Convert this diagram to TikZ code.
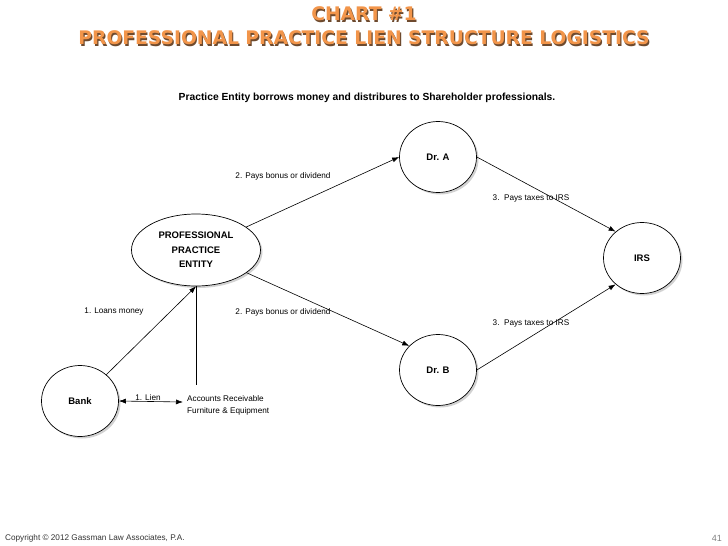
\documentclass[tikz,border=0pt]{standalone}
\usepackage{fontspec}
\setmainfont{Liberation Sans}
\newfontfamily\titlefont{DejaVu Sans}
\usepackage{xcolor}
\usetikzlibrary{shapes.geometric,arrows.meta,shadows}

\definecolor{chartorange}{HTML}{F2954A}
\definecolor{chartshade}{HTML}{6E4A2E}

\begin{document}
\begin{tikzpicture}[x=1pt,y=-1pt,
    party/.style={ellipse, draw, line width=0.7pt, fill=white, inner sep=0pt,
      minimum width=77pt, minimum height=71pt, font=\fontsize{9.5}{11}\selectfont\bfseries,
      drop shadow={shadow xshift=2pt, shadow yshift=-2pt, fill=gray!70}},
    flow/.style={line width=0.6pt, -{Latex[length=7pt,width=5pt]}},
    note/.style={font=\fontsize{8.2}{9}\selectfont, inner sep=0pt},
    heading/.style={font=\titlefont\fontsize{18.7}{24}\selectfont\bfseries, inner sep=0pt, align=center}]
  \useasboundingbox (0,0) rectangle (728,546);

  % Title with its shade
  \node[heading, chartshade] (titleShade) at (365.2,27.2) {CHART \#1\\PROFESSIONAL PRACTICE LIEN STRUCTURE LOGISTICS};
  \node[heading, chartorange] (title) at (364,26) {CHART \#1\\PROFESSIONAL PRACTICE LIEN STRUCTURE LOGISTICS};
  \node[font=\fontsize{10.3}{12}\selectfont\bfseries, inner sep=0pt] (headline) at (367,98)
    {Practice Entity borrows money and distribures to Shareholder professionals.};

  % Parties
  \node[party, minimum width=129pt, minimum height=72pt, align=center] (ent) at (196,250)
    {PROFESSIONAL\\[3.5pt]PRACTICE\\[3.5pt]ENTITY};
  \node[party] (drA) at (438,157) {Dr. A};
  \node[party] (drB) at (438,370) {Dr. B};
  \node[party] (irs) at (642,258) {IRS};
  \node[party] (bank) at (80,401) {Bank};

  % Collateral
  \node[note, anchor=west, align=left] (assets) at (187,405)
    {Accounts Receivable\\[3pt]Furniture \& Equipment};
  \coordinate (assetTop) at (196,385);
  \coordinate (lienEnd) at (183,402);

  % Money flows
  \draw[flow] (ent) -- (drA.west);
  \draw[flow] (ent) -- (drB.140);
  \draw[flow] (drA.east) -- (irs.135);
  \draw[flow] (drB.east) -- (irs.225);
  \draw[flow] (bank.45) -- (ent.south);
  \draw[line width=0.6pt] (ent.south) -- (assetTop);
  \draw[line width=0.6pt, {Latex[length=7pt,width=5pt]}-{Latex[length=7pt,width=5pt]}] (bank.east) -- (lienEnd);

  % Flow labels
  \node[note] (payA) at (283,176) {2. Pays bonus or dividend};
  \node[note] (payB) at (283,312) {2. Pays bonus or dividend};
  \node[note] (taxA) at (531,198) {3.\ \ Pays taxes to IRS};
  \node[note] (taxB) at (531,323) {3.\ \ Pays taxes to IRS};
  \node[note] (loan) at (114,312) {1. Loans money};
  \node[note] (lien) at (148,398) {1. Lien};

  % Footer
  \node[note, anchor=west, gray!40!black] (copy) at (5,538) {Copyright \textcopyright{} 2012 Gassman Law Associates, P.A.};
  \node[note, anchor=east, gray, font=\fontsize{9}{10}\selectfont] (page) at (722,538) {41};
\end{tikzpicture}
\end{document}
